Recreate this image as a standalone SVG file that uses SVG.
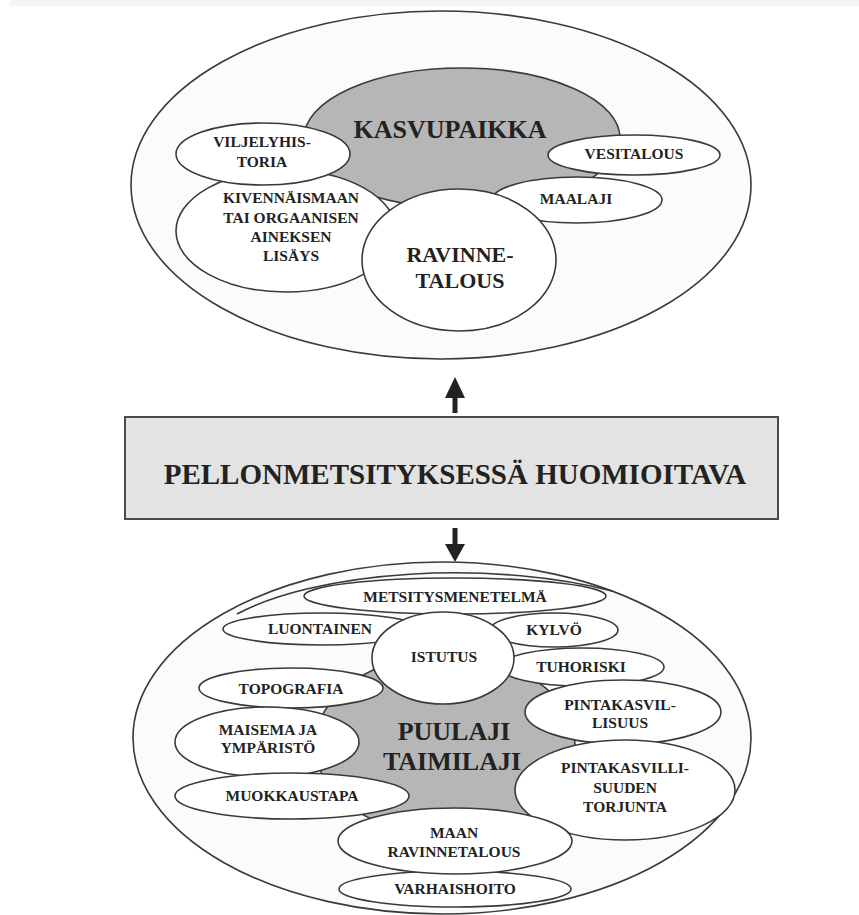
<svg xmlns="http://www.w3.org/2000/svg" width="859" height="915" viewBox="0 0 859 915">
<defs>
<style>
.bg{fill:#fbfbfb;stroke:#3a3a3a;stroke-width:1.6}
.w{fill:#ffffff;stroke:#3a3a3a;stroke-width:1.6}
.g{fill:#b6b6b6;stroke:#3a3a3a;stroke-width:1.6}
.t{font-family:"Liberation Serif","Times New Roman",serif;font-weight:bold;fill:#222222;text-anchor:middle}
.s{font-size:15.5px}
.m{font-size:22px}
.l{font-size:26px}
.x{font-size:29px}
.arw{fill:#222;stroke:none}
</style>
</defs>
<rect x="0" y="0" width="859" height="915" fill="#ffffff"/>
<rect x="10" y="0" width="849" height="6" fill="#f5f5f5"/>

<g id="top-frame">
<ellipse class="bg" cx="441" cy="185" rx="310" ry="174"/>
</g>
<g id="kasvupaikka">
<ellipse class="g" cx="462" cy="138" rx="158" ry="70"/>
<text class="t l" x="450" y="138">KASVUPAIKKA</text>
</g>
<g id="kivennaismaan">
<ellipse class="w" cx="286" cy="231" rx="110" ry="61"/>
<text class="t s" x="291" y="203">KIVENNÄISMAAN</text>
<text class="t s" x="291" y="223">TAI ORGAANISEN</text>
<text class="t s" x="291" y="242">AINEKSEN</text>
<text class="t s" x="291" y="261">LISÄYS</text>
</g>
<g id="viljelyhistoria">
<ellipse class="w" cx="263" cy="154" rx="87" ry="31"/>
<text class="t s" x="262" y="147">VILJELYHIS-</text>
<text class="t s" x="262" y="167">TORIA</text>
</g>
<g id="maalaji">
<ellipse class="w" cx="577" cy="200" rx="85" ry="23"/>
<text class="t s" x="576" y="204">MAALAJI</text>
</g>
<g id="vesitalous">
<ellipse class="w" cx="634" cy="155" rx="86" ry="20"/>
<text class="t s" x="634" y="159">VESITALOUS</text>
</g>
<g id="ravinnetalous">
<ellipse class="w" cx="459" cy="260" rx="97" ry="71"/>
<text class="t m" x="460" y="262">RAVINNE-</text>
<text class="t m" x="460" y="288">TALOUS</text>
</g>

<g id="center-box">
<rect x="125" y="417" width="653" height="102" fill="#e3e3e3" stroke="#4a4a4a" stroke-width="2"/>
<text class="t x" x="455" y="484">PELLONMETSITYKSESSÄ HUOMIOITAVA</text>
</g>

<g id="connectors">
<rect class="arw" x="452.5" y="395" width="5" height="18"/>
<polygon class="arw" points="445,398 465,398 455,377"/>
<rect class="arw" x="452.5" y="528" width="5" height="19"/>
<polygon class="arw" points="445,544 465,544 455,562"/>
</g>

<g id="bottom-frame">
<ellipse class="bg" cx="442" cy="738" rx="309" ry="176"/>
<path d="M 237 614 A 260 90 0 0 1 612 591" fill="none" stroke="#3a3a3a" stroke-width="1.6"/>
</g>
<g id="puulaji">
<ellipse class="g" cx="445" cy="745" rx="130" ry="90"/>
</g>
<g id="metsitysmenetelma">
<ellipse class="w" cx="455" cy="596" rx="151" ry="18"/>
<text class="t s" x="455" y="602">METSITYSMENETELMÄ</text>
</g>
<g id="luontainen">
<ellipse class="w" cx="322" cy="629" rx="99" ry="16"/>
<text class="t s" x="320" y="634">LUONTAINEN</text>
</g>
<g id="kylvo">
<ellipse class="w" cx="554" cy="630" rx="64" ry="17"/>
<text class="t s" x="554" y="635">KYLVÖ</text>
</g>
<g id="tuhoriski">
<ellipse class="w" cx="582" cy="667" rx="82" ry="19"/>
<text class="t s" x="581" y="672">TUHORISKI</text>
</g>
<g id="istutus">
<ellipse class="w" cx="443" cy="658" rx="71" ry="46"/>
<text class="t s" x="444" y="662">ISTUTUS</text>
</g>
<g id="topografia">
<ellipse class="w" cx="291" cy="688" rx="92" ry="20"/>
<text class="t s" x="291" y="694">TOPOGRAFIA</text>
</g>
<g id="maisema">
<ellipse class="w" cx="267" cy="742" rx="92" ry="35"/>
<text class="t s" x="268" y="735">MAISEMA JA</text>
<text class="t s" x="268" y="753">YMPÄRISTÖ</text>
</g>
<g id="muokkaustapa">
<ellipse class="w" cx="292" cy="796" rx="117" ry="23"/>
<text class="t s" x="292" y="801">MUOKKAUSTAPA</text>
</g>
<g id="pintakasvillisuus">
<ellipse class="w" cx="623" cy="712" rx="98" ry="32"/>
<text class="t s" x="620" y="710">PINTAKASVIL-</text>
<text class="t s" x="620" y="728">LISUUS</text>
</g>
<g id="pintakasvillisuuden-torjunta">
<ellipse class="w" cx="625" cy="790" rx="110" ry="50"/>
<text class="t s" x="625" y="773">PINTAKASVILLI-</text>
<text class="t s" x="625" y="793">SUUDEN</text>
<text class="t s" x="625" y="812">TORJUNTA</text>
</g>
<g id="varhaishoito">
<ellipse class="w" cx="455" cy="889" rx="116" ry="18"/>
<text class="t s" x="455" y="894">VARHAISHOITO</text>
</g>
<g id="maan-ravinnetalous">
<ellipse class="w" cx="455" cy="841" rx="117" ry="33"/>
<text class="t s" x="454" y="838">MAAN</text>
<text class="t s" x="454" y="857">RAVINNETALOUS</text>
</g>
<g id="puulaji-label">
<text class="t l" x="454" y="740">PUULAJI</text>
<text class="t l" x="452" y="770">TAIMILAJI</text>
</g>
</svg>
